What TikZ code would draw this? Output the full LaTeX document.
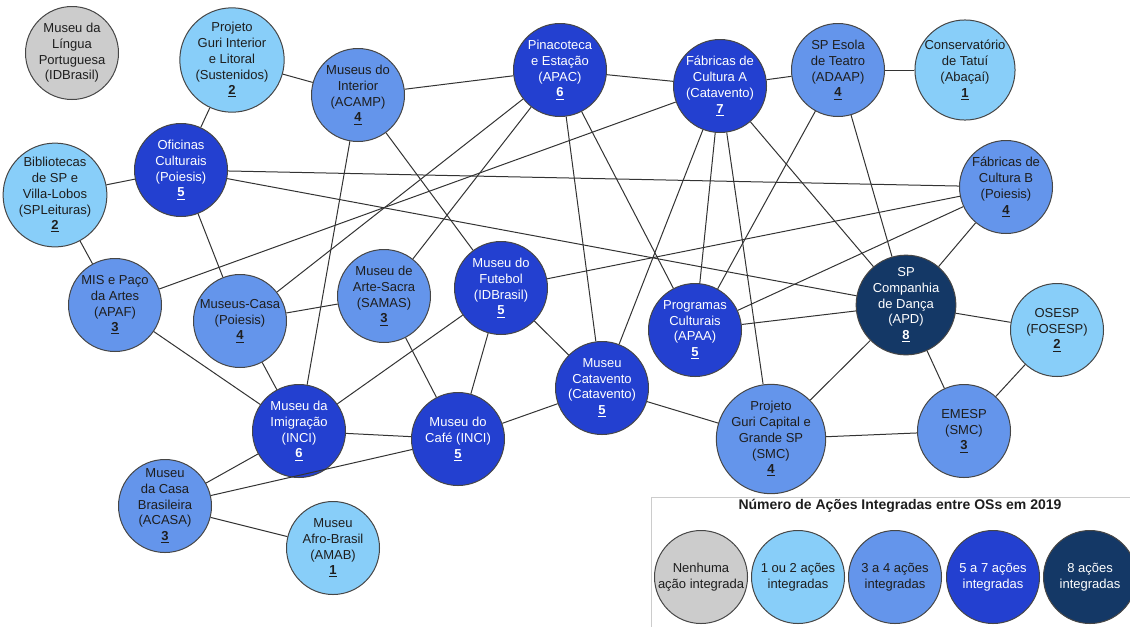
\documentclass[tikz,border=0pt]{standalone}
\usepackage{fontspec}
\setmainfont{Liberation Sans}
\definecolor{nonecol}{RGB}{204,204,204}
\definecolor{lowcol}{RGB}{136,206,249}
\definecolor{midcol}{RGB}{100,149,235}
\definecolor{highcol}{RGB}{35,64,208}
\definecolor{topcol}{RGB}{20,56,102}
\definecolor{inkcol}{RGB}{30,30,30}
\definecolor{rimcol}{RGB}{70,70,70}
\newcommand{\acoes}[1]{\underline{\textbf{#1}}}

\tikzset{every picture/.style={line width=0.75pt}}
\tikzset{
  os/.style={circle, draw=rimcol, line width=0.75pt, minimum size=69.75pt, inner sep=0pt,
    align=center, font=\fontsize{9.75}{11.8}\selectfont},
  os0/.style={os, fill=nonecol, text=inkcol},
  os1/.style={os, fill=lowcol, text=inkcol},
  os3/.style={os, fill=midcol, text=inkcol},
  os5/.style={os, fill=highcol, text=white},
  os8/.style={os, fill=topcol, text=white},
  link/.style={draw=black!80, line width=0.75pt},
}

\begin{document}
\begin{tikzpicture}[x=0.75pt,y=0.75pt,yscale=-1,xscale=1]
\useasboundingbox (0,0) rectangle (1130,626);
\clip (0,0) rectangle (1130,626);

% OS circles
\node [os0] (lingua) at (72,53) {Museu da\\Língua\\Portuguesa\\(IDBrasil)};
\node [os1] (gurii) at (232,60) {Projeto\\Guri Interior\\e Litoral\\(Sustenidos)\\\acoes{2}};
\node [os3] (acamp) at (358,95) {Museus do\\Interior\\(ACAMP)\\\acoes{4}};
\node [os5] (oficinas) at (181,170) {Oficinas\\Culturais\\(Poiesis)\\\acoes{5}};
\node [os1] (biblio) at (55,195) {Bibliotecas\\de SP e\\Villa-Lobos\\(SPLeituras)\\\acoes{2}};
\node [os5] (apac) at (560,70) {Pinacoteca\\e Estação\\(APAC)\\\acoes{6}};
\node [os5] (fabA) at (720,86) {Fábricas de\\Cultura A\\(Catavento)\\\acoes{7}};
\node [os3] (adaap) at (838,70) {SP Esola\\de Teatro\\(ADAAP)\\\acoes{4}};
\node [os1] (tatui) at (965,70) {Conservatório\\de Tatuí\\(Abaçaí)\\\acoes{1}};
\node [os3] (fabB) at (1006,187) {Fábricas de\\Cultura B\\(Poiesis)\\\acoes{4}};
\node [os3] (mis) at (115,305) {MIS e Paço\\da Artes\\(APAF)\\\acoes{3}};
\node [os3] (mcasa) at (240,321) {Museus-Casa\\(Poiesis)\\\acoes{4}};
\node [os3] (samas) at (384,296) {Museu de\\Arte-Sacra\\(SAMAS)\\\acoes{3}};
\node [os5] (futebol) at (501,288) {Museu do\\Futebol\\(IDBrasil)\\\acoes{5}};
\node [os5] (apaa) at (695,330) {Programas\\Culturais\\(APAA)\\\acoes{5}};
\node [os5] (catavento) at (602,388) {Museu\\Catavento\\(Catavento)\\\acoes{5}};
\node [os8] (apd) at (906,305) {SP\\Companhia\\de Dança\\(APD)\\\acoes{8}};
\node [os1] (osesp) at (1057,330) {OSESP\\(FOSESP)\\\acoes{2}};
\node [os3] (emesp) at (964,431) {EMESP\\(SMC)\\\acoes{3}};
\node [os3] (gurical) at (771,439) {Projeto\\Guri Capital e\\Grande SP\\(SMC)\\\acoes{4}};
\node [os5] (inci) at (299,431) {Museu da\\Imigração\\(INCI)\\\acoes{6}};
\node [os5] (cafe) at (458,439) {Museu do\\Café (INCI)\\\acoes{5}};
\node [os3] (acasa) at (165,506) {Museu\\da Casa\\Brasileira\\(ACASA)\\\acoes{3}};
\node [os1] (amab) at (333,548) {Museu\\Afro-Brasil\\(AMAB)\\\acoes{1}};

% Integrated actions
\foreach \a/\b in {gurii/oficinas, gurii/acamp, biblio/oficinas, biblio/mis,
    oficinas/fabB, oficinas/apd, oficinas/mcasa,
    acamp/apac, acamp/futebol, acamp/inci,
    apac/fabA, apac/mcasa, apac/samas, apac/catavento, apac/apaa,
    fabA/adaap, fabA/mis, fabA/catavento, fabA/apaa, fabA/gurical, fabA/apd,
    adaap/tatui, adaap/apd, adaap/apaa,
    fabB/futebol, fabB/apaa, fabB/apd,
    apd/apaa, apd/osesp, apd/emesp, apd/gurical,
    osesp/emesp, gurical/emesp, catavento/gurical,
    catavento/cafe, catavento/futebol, futebol/cafe, futebol/inci,
    samas/mcasa, samas/cafe, mis/inci, mcasa/inci, inci/cafe,
    inci/acasa, acasa/cafe, acasa/amab}
  \draw [link] (\a) -- (\b);

% Legend
\draw [draw=black!20, line width=0.75pt] (651,640) -- (651,497) -- (1140,497);
\node [font=\fontsize{10.5}{12.5}\selectfont\bfseries, text=inkcol] (legtitle) at (900,506) {Número de Ações Integradas entre OSs em 2019};
\node [os0] (leg0) at (701,577) {Nenhuma\\ação integrada};
\node [os1] (leg1) at (798,577) {1 ou 2 ações\\integradas};
\node [os3] (leg3) at (895,577) {3 a 4 ações\\integradas};
\node [os5] (leg5) at (993,577) {5 a 7 ações\\integradas};
\node [os8] (leg8) at (1090,577) {8 ações\\integradas};

\end{tikzpicture}
\end{document}
